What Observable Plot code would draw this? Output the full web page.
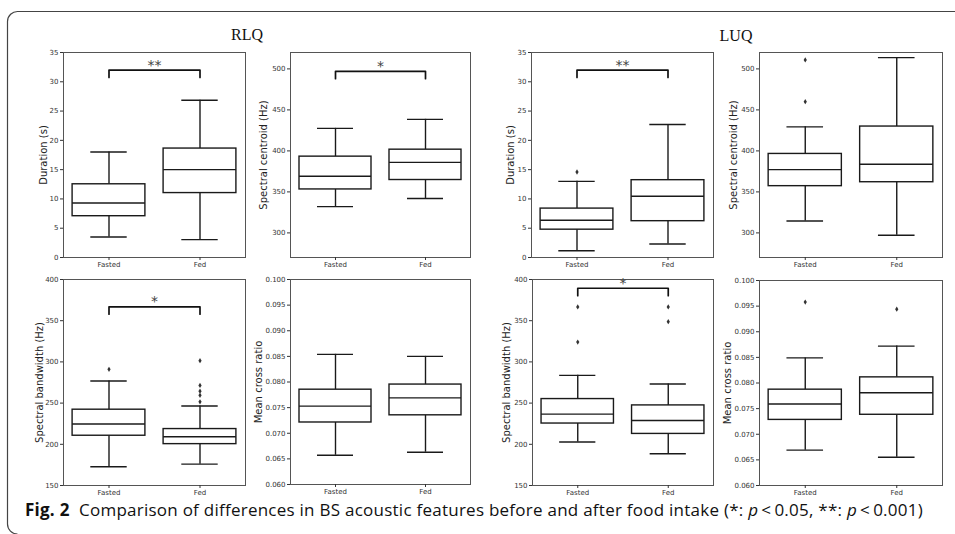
<!DOCTYPE html>
<html>
<head>
<meta charset="utf-8">
<script src="https://cdn.jsdelivr.net/npm/d3@7"></script>
<script src="https://cdn.jsdelivr.net/npm/@observablehq/plot@0.6"></script>
<style>
  html, body { margin: 0; padding: 0; background: #fff; }
  #wrap { position: relative; width: 955px; height: 534px; overflow: hidden; background: #fff; }
  .panel { position: absolute; }
  .panel svg text { font-family: "DejaVu Sans", sans-serif; }
  .title { position: absolute; font-family: "Liberation Serif", "DejaVu Serif", serif; font-size: 16px; color: #111; transform: translateX(-50%); line-height: 1; }
  #caption { position: absolute; left: 25px; top: 501px; font-family: "Open Sans", "Noto Sans", sans-serif; font-size: 17px; color: #111; white-space: nowrap; line-height: 1; }
  #caption b { font-weight: 700; }
  #border { position: absolute; left: 0; top: 0; }
</style>
</head>
<body>
<div id="wrap">
  <svg id="border" width="955" height="534"><path d="M955,11.5 H18 A10,10 0 0 0 7.5,21.5 V524 A10,10 0 0 0 17.5,534" fill="none" stroke="#444" stroke-width="1.2"/></svg>
  <div class="title" style="left:247px;top:27px;">RLQ</div>
  <div class="title" style="left:736px;top:28px;">LUQ</div>
  <div id="caption"><b>Fig. 2</b>&nbsp; Comparison of differences in BS acoustic features before and after food intake (*: <i>p</i>&thinsp;&lt;&thinsp;0.05, **: <i>p</i>&thinsp;&lt;&thinsp;0.001)</div>
</div>
<script>
// ---------- data ----------
const groups = ["Fasted", "Fed"];

const durationTicks = [0, 5, 10, 15, 20, 25, 30, 35];
const centroidTicks = [300, 350, 400, 450, 500];
const bandwidthTicks = [150, 200, 250, 300, 350, 400];
const ratioTicks = [0.060, 0.065, 0.070, 0.075, 0.080, 0.085, 0.090, 0.095, 0.100];

// RLQ
const rlqDuration = [
  {group: "Fasted", low: 3.5, q1: 7.05, median: 9.3, q3: 12.5, high: 18.0},
  {group: "Fed", low: 3.05, q1: 11.0, median: 15.0, q3: 18.6, high: 26.85}
];
const rlqDurationOutliers = [];
const rlqDurationSig = [{from: "Fasted", to: "Fed", y: 32.0, label: "**"}];

const rlqCentroid = [
  {group: "Fasted", low: 332, q1: 353, median: 369, q3: 393, high: 427.5},
  {group: "Fed", low: 342, q1: 364.5, median: 386, q3: 401.5, high: 438.5}
];
const rlqCentroidOutliers = [];
const rlqCentroidSig = [{from: "Fasted", to: "Fed", y: 497, label: "*"}];

const rlqBandwidth = [
  {group: "Fasted", low: 172.7, q1: 210.4, median: 224.6, q3: 242, high: 276.8},
  {group: "Fed", low: 175.9, q1: 200.2, median: 209.2, q3: 218.5, high: 246.4}
];
const rlqBandwidthOutliers = [
  {group: "Fasted", value: 291},
  {group: "Fed", value: 301.5},
  {group: "Fed", value: 271.5},
  {group: "Fed", value: 264.5},
  {group: "Fed", value: 259.5},
  {group: "Fed", value: 251.5}
];
const rlqBandwidthSig = [{from: "Fasted", to: "Fed", y: 366.8, label: "*"}];

const rlqRatio = [
  {group: "Fasted", low: 0.0657, q1: 0.0721, median: 0.0753, q3: 0.0785, high: 0.0854},
  {group: "Fed", low: 0.0663, q1: 0.0735, median: 0.0769, q3: 0.0795, high: 0.0850}
];
const rlqRatioOutliers = [];
const rlqRatioSig = [];

// LUQ
const luqDuration = [
  {group: "Fasted", low: 1.15, q1: 4.75, median: 6.35, q3: 8.35, high: 13.0},
  {group: "Fed", low: 2.3, q1: 6.2, median: 10.45, q3: 13.2, high: 22.7}
];
const luqDurationOutliers = [{group: "Fasted", value: 14.6}];
const luqDurationSig = [{from: "Fasted", to: "Fed", y: 32.0, label: "**"}];

const luqCentroid = [
  {group: "Fasted", low: 314.6, q1: 357, median: 377.2, q3: 396.3, high: 429.3},
  {group: "Fed", low: 297.2, q1: 361.8, median: 383.7, q3: 429.7, high: 513.8}
];
const luqCentroidOutliers = [
  {group: "Fasted", value: 511},
  {group: "Fasted", value: 460}
];
const luqCentroidSig = [];

const luqBandwidth = [
  {group: "Fasted", low: 202.8, q1: 225.2, median: 236.6, q3: 254.9, high: 283.7},
  {group: "Fed", low: 188.6, q1: 212.6, median: 228.9, q3: 247.2, high: 273.2}
];
const luqBandwidthOutliers = [
  {group: "Fasted", value: 366.7},
  {group: "Fasted", value: 324},
  {group: "Fed", value: 366.7},
  {group: "Fed", value: 348.8}
];
const luqBandwidthSig = [{from: "Fasted", to: "Fed", y: 389.4, label: "*"}];

const luqRatio = [
  {group: "Fasted", low: 0.0669, q1: 0.0728, median: 0.0759, q3: 0.0787, high: 0.0849},
  {group: "Fed", low: 0.0655, q1: 0.0738, median: 0.0781, q3: 0.0811, high: 0.0872}
];
const luqRatioOutliers = [
  {group: "Fasted", value: 0.0958},
  {group: "Fed", value: 0.0944}
];
const luqRatioSig = [];

// ---------- drawing ----------
const thinDiamond = {
  draw(context, size) {
    const r = Math.sqrt(size / Math.PI);
    context.moveTo(0, -r * 1.15);
    context.lineTo(r * 0.7, 0);
    context.lineTo(0, r * 1.15);
    context.lineTo(-r * 0.7, 0);
    context.closePath();
  }
};

const ML = 50, MR = 8, MT = 12, MB = 24;
const gi = d => groups.indexOf(d.group);
const BOX = "#1a1a1a";

function panel({stats, outliers, sig, domain, ticks, fmt, label, labelDx, left, top, fw, fh}) {
  const span = domain[1] - domain[0];
  const bracket = sig.flatMap(s => {
    const a = groups.indexOf(s.from), b = groups.indexOf(s.to), t = 0.036 * span;
    return [
      {x: a, y: s.y - t, k: s.label},
      {x: a, y: s.y, k: s.label},
      {x: b, y: s.y, k: s.label},
      {x: b, y: s.y - t, k: s.label}
    ];
  });
  const sw = 1.4;
  const chart = Plot.plot({
    width: ML + fw + MR,
    height: MT + fh + MB,
    marginLeft: ML, marginRight: MR, marginTop: MT, marginBottom: MB,
    style: {fontFamily: "'DejaVu Sans', sans-serif", fontSize: "7px", color: "#333", background: "transparent", overflow: "visible"},
    x: {domain: [-0.5, 1.5]},
    y: {domain, label: null},
    marks: [
      Plot.frame({stroke: "#555", strokeWidth: 1}),
      Plot.axisY(ticks, {tickSize: 3, tickPadding: 2, tickFormat: fmt, fontSize: 7, label: null}),
      Plot.axisX([0, 1], {tickSize: 3, tickPadding: 2, tickFormat: i => groups[i], fontSize: 7, label: null}),
      Plot.text([label], {text: d => d, frameAnchor: "left", textAnchor: "middle", lineAnchor: "middle", dx: -labelDx, rotate: -90, fontSize: 10, fill: "#222"}),
      Plot.ruleX(stats, {x: gi, y1: "low", y2: "q1", stroke: BOX, strokeWidth: sw}),
      Plot.ruleX(stats, {x: gi, y1: "q3", y2: "high", stroke: BOX, strokeWidth: sw}),
      Plot.ruleY(stats, {y: "low", x1: d => gi(d) - 0.2, x2: d => gi(d) + 0.2, stroke: BOX, strokeWidth: sw}),
      Plot.ruleY(stats, {y: "high", x1: d => gi(d) - 0.2, x2: d => gi(d) + 0.2, stroke: BOX, strokeWidth: sw}),
      Plot.rect(stats, {x1: d => gi(d) - 0.4, x2: d => gi(d) + 0.4, y1: "q1", y2: "q3", fill: "white", stroke: BOX, strokeWidth: sw}),
      Plot.ruleY(stats, {y: "median", x1: d => gi(d) - 0.4, x2: d => gi(d) + 0.4, stroke: BOX, strokeWidth: sw}),
      Plot.dot(outliers, {x: gi, y: "value", symbol: thinDiamond, r: 2.3, fill: "#333", stroke: "none"}),
      Plot.line(bracket, {x: "x", y: "y", z: "k", stroke: "#111", strokeWidth: 1.7}),
      Plot.text(sig, {x: s => (groups.indexOf(s.from) + groups.indexOf(s.to)) / 2, y: "y", text: "label", dy: -5, fontSize: 14, fill: "#444"})
    ]
  });
  const div = document.createElement("div");
  div.className = "panel";
  div.style.left = (left - ML) + "px";
  div.style.top = (top - MT) + "px";
  div.appendChild(chart);
  document.getElementById("wrap").appendChild(div);
}

const f0 = d3.format("d");
const f3 = d3.format(".3f");

panel({stats: rlqDuration, outliers: rlqDurationOutliers, sig: rlqDurationSig, domain: [0, 35], ticks: durationTicks, fmt: f0,
  label: "Duration (s)", labelDx: 20, left: 63, top: 52, fw: 182, fh: 205});
panel({stats: rlqCentroid, outliers: rlqCentroidOutliers, sig: rlqCentroidSig, domain: [270, 520], ticks: centroidTicks, fmt: f0,
  label: "Spectral centroid (Hz)", labelDx: 27, left: 290, top: 52, fw: 180, fh: 205});
panel({stats: luqDuration, outliers: luqDurationOutliers, sig: luqDurationSig, domain: [0, 35], ticks: durationTicks, fmt: f0,
  label: "Duration (s)", labelDx: 21, left: 531, top: 52, fw: 182, fh: 205});
panel({stats: luqCentroid, outliers: luqCentroidOutliers, sig: luqCentroidSig, domain: [270, 520], ticks: centroidTicks, fmt: f0,
  label: "Spectral centroid (Hz)", labelDx: 26, left: 759, top: 52, fw: 183, fh: 205});

panel({stats: rlqBandwidth, outliers: rlqBandwidthOutliers, sig: rlqBandwidthSig, domain: [150, 400], ticks: bandwidthTicks, fmt: f0,
  label: "Spectral bandwidth (Hz)", labelDx: 24, left: 63, top: 279, fw: 182, fh: 206});
panel({stats: rlqRatio, outliers: rlqRatioOutliers, sig: rlqRatioSig, domain: [0.06, 0.1], ticks: ratioTicks, fmt: f3,
  label: "Mean cross ratio", labelDx: 32, left: 290, top: 279, fw: 180, fh: 205});
panel({stats: luqBandwidth, outliers: luqBandwidthOutliers, sig: luqBandwidthSig, domain: [150, 400], ticks: bandwidthTicks, fmt: f0,
  label: "Spectral bandwidth (Hz)", labelDx: 26, left: 532, top: 279, fw: 181, fh: 206});
panel({stats: luqRatio, outliers: luqRatioOutliers, sig: luqRatioSig, domain: [0.06, 0.1], ticks: ratioTicks, fmt: f3,
  label: "Mean cross ratio", labelDx: 32, left: 759, top: 280, fw: 183, fh: 205});

// fit the caption to the width it has in the reference (x 25 → 923)
const cap = document.getElementById("caption");
const w = cap.getBoundingClientRect().width;
const nChars = cap.textContent.length;
cap.style.letterSpacing = ((898 - w) / nChars) + "px";
</script>
</body>
</html>
